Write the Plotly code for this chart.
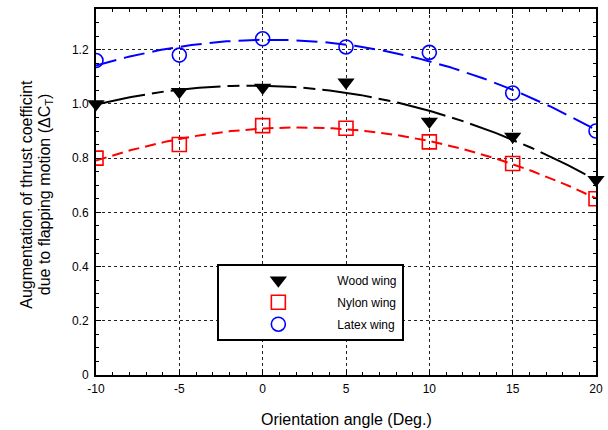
import numpy as np
import plotly.graph_objects as go

# Orientation angle (deg) and measured thrust-coefficient augmentation
angles = [-10, -5, 0, 5, 10, 15, 20]
wood = [1.00, 1.045, 1.06, 1.08, 0.935, 0.88, 0.72]
nylon = [0.80, 0.85, 0.92, 0.91, 0.86, 0.78, 0.65]
latex = [1.16, 1.18, 1.24, 1.21, 1.19, 1.04, 0.90]

x_ticks = [-10, -5, 0, 5, 10, 15, 20]
y_ticks = [0, 0.2, 0.4, 0.6, 0.8, 1.0, 1.2]
y_tick_text = ["0", "0.2", "0.4", "0.6", "0.8", "1.0", "1.2"]

FONT = "Liberation Sans"

fig = go.Figure()

# Second-order polynomial trend curves through each data set
xs = np.linspace(-10, 20, 200)
series = [
    ("Wood wing", wood, "black", "50px,7px,12px,7px",
     dict(symbol="triangle-down", size=15, color="black"), False),
    ("Nylon wing", nylon, "red", "11px,6px",
     dict(symbol="square-open", size=14, color="red", line=dict(width=1.6, color="red")), True),
    ("Latex wing", latex, "blue", "21px,8px",
     dict(symbol="circle-open", size=14, color="blue", line=dict(width=1.6, color="blue")), True),
]

for i, (name, ys, color, dash, _, _) in enumerate(series):
    coef = np.polyfit(angles, ys, 2)
    fig.add_trace(go.Scatter(
        x=xs, y=np.polyval(coef, xs), mode="lines",
        line=dict(color=color, width=2, dash=dash),
        showlegend=False, hoverinfo="skip", legendgroup=f"g{i}",
    ))

for i, (name, ys, color, dash, marker, clip) in enumerate(series):
    fig.add_trace(go.Scatter(
        x=angles, y=ys, mode="markers", name=name,
        marker=marker, cliponaxis=clip, legendgroup=f"g{i}",
    ))

axis_common = dict(
    showline=True, linecolor="black", linewidth=2, mirror="allticks",
    ticks="inside", ticklen=5, tickwidth=1, tickcolor="black",
    showgrid=True, gridcolor="#222", gridwidth=1, griddash="dot",
    zeroline=False, tickfont=dict(family=FONT, size=12, color="black"),
    minor=dict(ticks="inside", ticklen=3, tickwidth=1, tickcolor="black", showgrid=False),
    automargin=False,
)

fig.update_xaxes(
    range=[-10, 20], tickvals=x_ticks, ticktext=[str(v) for v in x_ticks],
    minor_dtick=1, minor_tick0=0,
    ticklabelstandoff=2,
    **axis_common,
)
fig.update_yaxes(
    range=[0, 1.35], tickvals=y_ticks, ticktext=y_tick_text,
    minor_dtick=0.05, minor_tick0=0,
    ticklabelstandoff=3,
    **axis_common,
)

# Axis titles set as annotations for exact placement
title_font = dict(family=FONT, size=16, color="black")
fig.add_annotation(
    text="Orientation angle (Deg.)",
    xref="paper", yref="paper", x=0.5, y=-0.121,
    xanchor="center", yanchor="middle", showarrow=False, font=title_font,
)
fig.add_annotation(
    text="Augmentation of thrust coefficint", textangle=-90,
    xref="paper", yref="paper", x=-0.138, y=0.4925,
    xanchor="center", yanchor="middle", showarrow=False, font=title_font,
)
fig.add_annotation(
    text="due to flapping motion (\u0394C<sub>T</sub>)", textangle=-90,
    xref="paper", yref="paper", x=-0.101, y=0.4925,
    xanchor="center", yanchor="middle", showarrow=False, font=title_font,
)

fig.update_layout(
    width=608, height=430,
    margin=dict(l=96, r=12, t=9, b=55),
    paper_bgcolor="white", plot_bgcolor="white",
    font=dict(family=FONT, color="black"),
    legend=dict(
        x=0.2427, y=0.304, xanchor="left", yanchor="top",
        bgcolor="white", bordercolor="black", borderwidth=2,
        font=dict(family=FONT, size=12, color="black"),
        itemwidth=108, tracegroupgap=3,
    ),
)

fig.write_html("out.html")
